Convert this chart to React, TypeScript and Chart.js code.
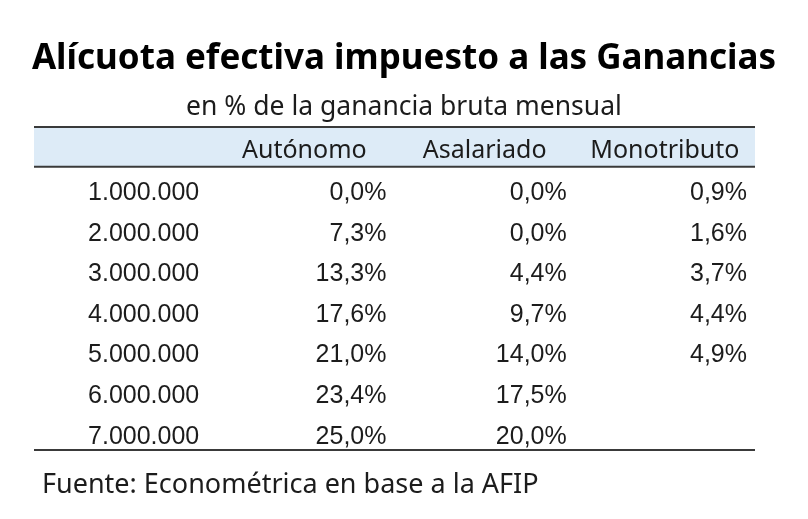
import React, { useEffect, useRef } from "react";
import { Chart, registerables } from "chart.js";

Chart.register(...registerables);

const TITLE = "Alícuota efectiva impuesto a las Ganancias";
const SUBTITLE = "en % de la ganancia bruta mensual";
const SOURCE = "Fuente: Econométrica en base a la AFIP";

const HEADER_ROW = "header";
const INCOME_COLUMN = "ingreso";

const incomeLabels = [
  "1.000.000",
  "2.000.000",
  "3.000.000",
  "4.000.000",
  "5.000.000",
  "6.000.000",
  "7.000.000",
];
const columnHeaders = ["Autónomo", "Asalariado", "Monotributo"];

const autonomo: (number | null)[] = [0.0, 7.3, 13.3, 17.6, 21.0, 23.4, 25.0];
const asalariado: (number | null)[] = [0.0, 0.0, 4.4, 9.7, 14.0, 17.5, 20.0];
const monotributo: (number | null)[] = [0.9, 1.6, 3.7, 4.4, 4.9, null, null];

const seriesValues = [autonomo, asalariado, monotributo];

const TEXT_COLOR = "#1c1c1c";
const LINE_COLOR = "#3a3a3a";
const BAND_COLOR = "#DDEBF7";
const SANS = "'Noto Sans', sans-serif";
const NUM_FONT = "'Liberation Sans', Arial, sans-serif";

const fmtPct = (v: number) => v.toFixed(1).replace(".", ",") + "%";

const tablePlugin = {
  id: "tablePlugin",
  beforeDatasetsDraw(chart: any) {
    const { ctx, chartArea, scales } = chart;
    const y = scales.y;
    const step = y.getPixelForValue(1) - y.getPixelForValue(0);
    const headerBottom = y.getPixelForValue(0) + step / 2;
    ctx.save();
    ctx.fillStyle = BAND_COLOR;
    ctx.fillRect(chartArea.left, chartArea.top, chartArea.right - chartArea.left, headerBottom - chartArea.top);
    ctx.strokeStyle = LINE_COLOR;
    ctx.lineWidth = 2;
    const hLine = (py: number) => {
      ctx.beginPath();
      ctx.moveTo(chartArea.left, py);
      ctx.lineTo(chartArea.right, py);
      ctx.stroke();
    };
    hLine(chartArea.top + 1);
    hLine(headerBottom);
    hLine(chartArea.bottom - 1);
    ctx.restore();
  },
  afterDatasetsDraw(chart: any) {
    const { ctx, scales } = chart;
    const x = scales.x;
    const y = scales.y;
    const half = (x.getPixelForValue(1) - x.getPixelForValue(0)) / 2;
    ctx.save();
    ctx.fillStyle = TEXT_COLOR;
    // header texts
    ctx.font = `25px ${SANS}`;
    ctx.textAlign = "center";
    ctx.textBaseline = "alphabetic";
    const hy = y.getPixelForValue(0);
    columnHeaders.forEach((h) => {
      ctx.fillText(h, x.getPixelForValue(x.getLabels().indexOf(h)), hy + 12);
    });
    // cells
    ctx.font = `25px ${NUM_FONT}`;
    ctx.textAlign = "right";
    chart.data.datasets.forEach((ds: any, di: number) => {
      const meta = chart.getDatasetMeta(di);
      meta.data.forEach((el: any, i: number) => {
        const d = ds.data[i];
        const inset = di === 0 ? 15 : 8;
        ctx.fillText(d.text, el.x + half - inset, el.y + 13);
      });
    });
    // source note
    ctx.font = `27px ${SANS}`;
    ctx.textAlign = "left";
    ctx.fillText(SOURCE, 42, 493);
    ctx.restore();
  },
};

const hiddenAxis = (position: "left" | "right", width: number, labels: string[]) => ({
  type: "category",
  labels,
  position,
  offset: true,
  display: true,
  ticks: { display: false },
  grid: { display: false, drawTicks: false },
  border: { display: false },
  afterFit: (s: any) => {
    s.width = width;
  },
});

export default function App() {
  const canvasRef = useRef<HTMLCanvasElement | null>(null);

  useEffect(() => {
    if (!canvasRef.current) return;
    const xLabels = [INCOME_COLUMN, ...columnHeaders];
    const yLabels = [HEADER_ROW, ...incomeLabels];

    const datasets = [
      {
        label: INCOME_COLUMN,
        data: incomeLabels.map((r) => ({ x: INCOME_COLUMN, y: r, text: r })),
      },
      ...columnHeaders.map((h, ci) => ({
        label: h,
        data: incomeLabels
          .map((r, ri) => ({ r, v: seriesValues[ci][ri] }))
          .filter((p) => p.v !== null)
          .map((p) => ({ x: h, y: p.r, text: fmtPct(p.v as number) })),
      })),
    ].map((d) => ({ ...d, pointRadius: 0, pointHoverRadius: 0, showLine: false }));

    const chart = new Chart(canvasRef.current, {
      type: "scatter",
      data: { datasets } as any,
      options: {
        animation: false,
        responsive: false,
        devicePixelRatio: 1,
        events: [],
        layout: { padding: { top: 0, left: 0, right: 0, bottom: 68 } },
        scales: {
          x: { type: "category", labels: xLabels, display: false, offset: true },
          y: hiddenAxis("left", 34, yLabels),
          yRight: hiddenAxis("right", 53, yLabels),
        },
        plugins: {
          legend: { display: false },
          tooltip: { enabled: false },
          title: {
            display: true,
            text: TITLE,
            color: "#000000",
            font: { family: SANS, size: 35, weight: "bold", lineHeight: 1.2 },
            padding: { top: 38, bottom: 0 },
          },
          subtitle: {
            display: true,
            text: SUBTITLE,
            color: TEXT_COLOR,
            font: { family: SANS, size: 26.5, weight: "normal", lineHeight: 1.2 },
            padding: { top: 11.8, bottom: 2.4 },
          },
        },
      } as any,
      plugins: [tablePlugin],
    });
    return () => chart.destroy();
  }, []);

  return (
    <div style={{ position: "fixed", left: 0, top: 0, width: 808, height: 519, background: "#ffffff" }}>
      <canvas ref={canvasRef} width={808} height={519} style={{ display: "block" }} />
    </div>
  );
}
